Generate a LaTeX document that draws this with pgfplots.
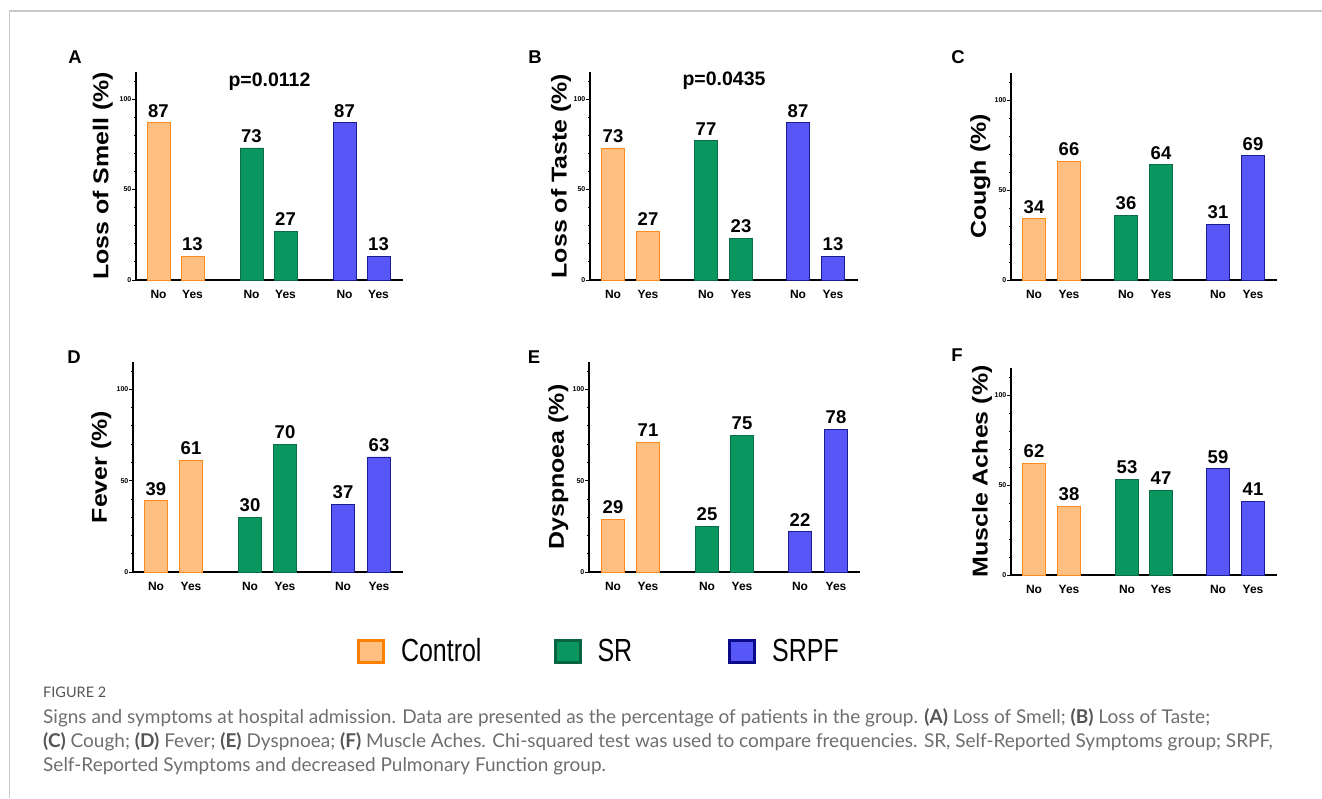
\documentclass[border=0pt]{standalone}
\usepackage{fontspec}
\setmainfont{Liberation Sans}
\newfontfamily\legfont[FakeStretch=0.78]{Liberation Sans}
\newfontfamily\labfont[FakeStretch=1.16]{Liberation Sans}
\newfontfamily\capfont{Lato}
\usepackage{pgfplots}
\pgfplotsset{compat=1.18}
\definecolor{ctrlfill}{HTML}{FFBF80}
\definecolor{ctrlline}{HTML}{FF8A1F}
\definecolor{srfill}{HTML}{0A965F}
\definecolor{srline}{HTML}{0D6B47}
\definecolor{srpffill}{HTML}{5757F8}
\definecolor{srpfline}{HTML}{1C1C8E}
\definecolor{legctrl}{HTML}{FF8000}
\definecolor{legsr}{HTML}{08653F}
\definecolor{legsrpf}{HTML}{0A0A8A}
\definecolor{capgray}{HTML}{6E6E6E}
\definecolor{capdark}{HTML}{555555}
\definecolor{framegray}{HTML}{C8C8C8}

\pgfplotsset{
  panel/.style={
    scale only axis,
    ybar,
    ymin=0, ymax=115,
    xmin=0,
    axis x line*=bottom, axis y line*=left,
    axis line style={line width=1.4pt, black},
    ytick={0,50,100},
    minor ytick={10,20,30,40,60,70,80,90,110},
    tick align=outside,
    major tick length=4pt, minor tick length=2pt,
    tick style={black, line width=0.9pt},
    xtick style={draw=none},
    /pgf/number format/assume math mode=true,
    yticklabel style={font=\bfseries\fontsize{7}{8}\selectfont, inner sep=0.5pt},
    xticklabel style={font=\bfseries\fontsize{12}{14}\selectfont, anchor=north, inner sep=0pt, yshift=-6pt},
    xticklabels={No,Yes,No,Yes,No,Yes},
    ylabel style={font=\labfont\bfseries\fontsize{21.5}{26}\selectfont, anchor=center},
    nodes near coords,
    every node near coord/.append style={font=\bfseries\fontsize{18.5}{20}\selectfont, inner sep=0pt, yshift=5pt, anchor=south, black},
    bar width=23,
    clip=false,
  },
  ctrl/.style={fill=ctrlfill, draw=ctrlline, line width=0.9pt, bar shift=0pt},
  sr/.style={fill=srfill, draw=srline, line width=0.9pt, bar shift=0pt},
  srpf/.style={fill=srpffill, draw=srpfline, line width=0.9pt, bar shift=0pt},
}

\begin{document}
\begin{tikzpicture}[x=1pt,y=1pt]
\useasboundingbox (0pt,0pt) rectangle (1322pt,-798pt);
\draw[framegray, line width=1.5pt] (9.5pt,-798pt) -- (9.5pt,-11pt) -- (1322pt,-11pt);

% Panel A
\begin{axis}[panel, at={(136pt,-280pt)}, anchor=south west, width=267pt, height=208pt, xmax=267,
  xtick={22.5,56.5,115.5,149.5,208.5,242.5},
  ylabel={Loss of Smell (\%)}, ylabel style={at={(axis description cs:-0.124,0.5)}}]
\addplot[ctrl] coordinates {(22.5,87) (56.5,13)};
\addplot[sr] coordinates {(115.5,73) (149.5,27)};
\addplot[srpf] coordinates {(208.5,87) (242.5,13)};
\node[font=\bfseries\fontsize{19.5}{20}\selectfont] at (axis cs:133.5,109.5) {p=0.0112};
\end{axis}

% Panel B
\begin{axis}[panel, at={(590pt,-280pt)}, anchor=south west, width=268pt, height=208pt, xmax=268,
  xtick={23,58,116,151,208,243},
  ylabel={Loss of Taste (\%)}, ylabel style={at={(axis description cs:-0.108,0.5)}}]
\addplot[ctrl] coordinates {(23,73) (58,27)};
\addplot[sr] coordinates {(116,77) (151,23)};
\addplot[srpf] coordinates {(208,87) (243,13)};
\node[font=\bfseries\fontsize{19.5}{20}\selectfont] at (axis cs:134,110) {p=0.0435};
\end{axis}

% Panel C
\begin{axis}[panel, at={(1011pt,-280pt)}, anchor=south west, width=266pt, height=207pt, xmax=266,
  xtick={23,58,115,150,207,242},
  ylabel={Cough (\%)}, ylabel style={at={(axis description cs:-0.115,0.5)}}]
\addplot[ctrl] coordinates {(23,34) (58,66)};
\addplot[sr] coordinates {(115,36) (150,64)};
\addplot[srpf] coordinates {(207,31) (242,69)};
\end{axis}

% Panel D
\begin{axis}[panel, at={(133pt,-572pt)}, anchor=south west, width=270pt, height=210pt, xmax=270,
  xtick={23,58,117,152,210,246},
  ylabel={Fever (\%)}, ylabel style={at={(axis description cs:-0.117,0.5)}}]
\addplot[ctrl] coordinates {(23,39) (58,61)};
\addplot[sr] coordinates {(117,30) (152,70)};
\addplot[srpf] coordinates {(210,37) (246,63)};
\end{axis}

% Panel E
\begin{axis}[panel, at={(589pt,-572pt)}, anchor=south west, width=271pt, height=210pt, xmax=271,
  xtick={24,59,118,153,211,247},
  ylabel={Dyspnoea (\%)}, ylabel style={at={(axis description cs:-0.113,0.5)}},
  legend columns=3,
  legend style={at={(axis description cs:0.033,-0.376)}, anchor=center, draw=none, fill=none,
    font=\legfont\fontsize{32}{36}\selectfont,
    /tikz/column 2/.style={column sep=72pt},
    /tikz/column 4/.style={column sep=96pt},
    nodes={inner sep=0pt}},
  legend cell align=left]
\addplot[ctrl, legend image code/.code={\draw[fill=ctrlfill, draw=legctrl, line width=3pt] (1.5pt,-11.5pt) rectangle (26.5pt,10.5pt); \path[draw=none,fill=none] (0pt,0pt) -- (44pt,0pt);}] coordinates {(24,29) (59,71)};
\addlegendentry{Control}
\addplot[sr, legend image code/.code={\draw[fill=srfill, draw=legsr, line width=3pt] (1.5pt,-11.5pt) rectangle (26.5pt,10.5pt); \path[draw=none,fill=none] (0pt,0pt) -- (44pt,0pt);}] coordinates {(118,25) (153,75)};
\addlegendentry{SR}
\addplot[srpf, legend image code/.code={\draw[fill=srpffill, draw=legsrpf, line width=3pt] (1.5pt,-11.5pt) rectangle (26.5pt,10.5pt); \path[draw=none,fill=none] (0pt,0pt) -- (44pt,0pt);}] coordinates {(211,22) (247,78)};
\addlegendentry{SRPF}
\end{axis}

% Panel F
\begin{axis}[panel, at={(1011pt,-575pt)}, anchor=south west, width=266pt, height=207pt, xmax=266,
  xtick={23,58,116,150,207,242},
  ylabel={Muscle Aches (\%)}, ylabel style={at={(axis description cs:-0.109,0.5)}}]
\addplot[ctrl] coordinates {(23,62) (58,38)};
\addplot[sr] coordinates {(116,53) (150,47)};
\addplot[srpf] coordinates {(207,59) (242,41)};
\end{axis}

% Panel letters
\begin{scope}[every node/.style={font=\bfseries\fontsize{18.5}{20}\selectfont, inner sep=0pt}]
\node at (75pt,-57pt) {A};
\node at (535pt,-57pt) {B};
\node at (958pt,-57pt) {C};
\node at (74pt,-357pt) {D};
\node at (534pt,-357pt) {E};
\node at (957pt,-355pt) {F};
\end{scope}

% Caption
\begin{scope}[every node/.style={anchor=base west, inner sep=0pt}]
\node[font=\capfont\fontsize{14.5}{16}\selectfont, text=capdark] at (43pt,-697pt) {FIGURE 2};
\node[font=\capfont\fontsize{19}{22}\selectfont, text=capgray] at (43pt,-723pt) {Signs and symptoms at hospital admission. Data are presented as the percentage of patients in the group. {\color{capdark}\bfseries(A)} Loss of Smell; {\color{capdark}\bfseries(B)} Loss of Taste;};
\node[font=\capfont\fontsize{19}{22}\selectfont, text=capgray] at (43pt,-747pt) {{\color{capdark}\bfseries(C)} Cough; {\color{capdark}\bfseries(D)} Fever; {\color{capdark}\bfseries(E)} Dyspnoea; {\color{capdark}\bfseries(F)} Muscle Aches. Chi-squared test was used to compare frequencies. SR, Self-Reported Symptoms group; SRPF,};
\node[font=\capfont\fontsize{19}{22}\selectfont, text=capgray] at (43pt,-771pt) {Self-Reported Symptoms and decreased Pulmonary Function group.};
\end{scope}
\end{tikzpicture}
\end{document}
